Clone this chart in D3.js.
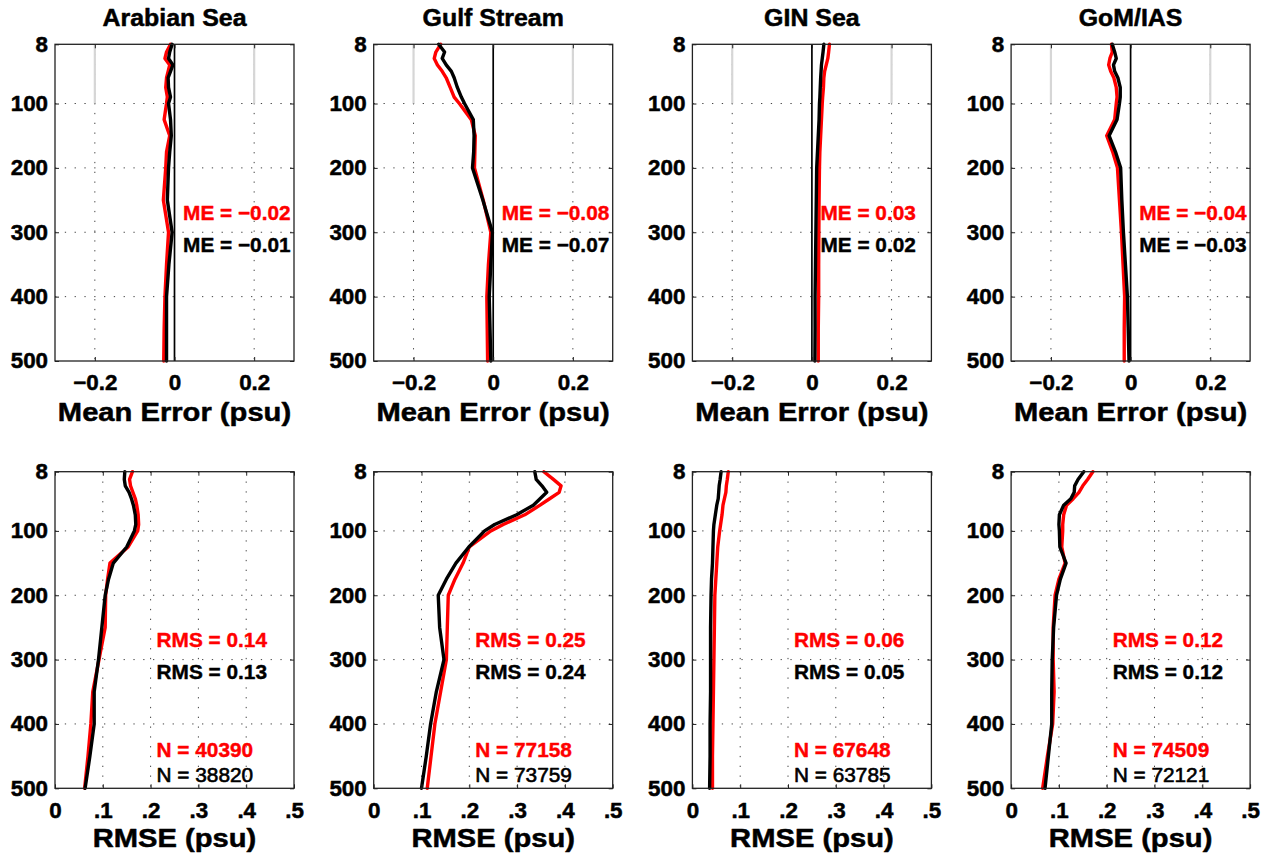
<!DOCTYPE html>
<html>
<head>
<meta charset="utf-8">
<script src="https://cdn.jsdelivr.net/npm/d3@7"></script>
<style>
  html, body { margin: 0; padding: 0; background: #fff; }
  svg { display: block; font-family: "Liberation Sans", Arial, Helvetica, sans-serif; }
</style>
</head>
<body>
<svg id="chart" width="1270" height="857"></svg>
<script>
// Salinity error profiles (psu) versus depth (m) for four regions.
const regions = ["Arabian Sea", "Gulf Stream", "GIN Sea", "GoM/IAS"];
const depths = [8, 20, 30, 40, 50, 60, 75, 90, 100, 125, 150, 175, 200, 250, 300, 350, 400, 450, 500];

// Mean error profiles, red and black experiments, one row per region
const meRed = [
  [-0.010, -0.020, -0.024, -0.012, -0.016, -0.020, -0.022, -0.018, -0.020, -0.026, -0.012, -0.020, -0.022, -0.028, -0.015, -0.020, -0.024, -0.026, -0.027],
  [-0.132, -0.144, -0.148, -0.140, -0.128, -0.118, -0.108, -0.098, -0.085, -0.055, -0.045, -0.046, -0.047, -0.025, -0.006, -0.012, -0.016, -0.015, -0.014],
  [0.044, 0.042, 0.040, 0.036, 0.032, 0.030, 0.029, 0.027, 0.026, 0.024, 0.022, 0.020, 0.019, 0.018, 0.0175, 0.017, 0.017, 0.016, 0.016],
  [-0.048, -0.046, -0.052, -0.055, -0.050, -0.042, -0.036, -0.034, -0.036, -0.040, -0.060, -0.045, -0.033, -0.028, -0.023, -0.019, -0.015, -0.016, -0.016]
];
const meBlack = [
  [-0.006, -0.012, -0.015, -0.004, -0.010, -0.016, -0.015, -0.010, -0.015, -0.010, -0.008, -0.012, -0.015, -0.018, -0.006, -0.014, -0.020, -0.020, -0.020],
  [-0.137, -0.122, -0.128, -0.118, -0.105, -0.098, -0.090, -0.080, -0.072, -0.050, -0.048, -0.049, -0.052, -0.026, -0.002, -0.006, -0.010, -0.008, -0.006],
  [0.030, 0.028, 0.026, 0.024, 0.023, 0.022, 0.021, 0.020, 0.019, 0.018, 0.016, 0.014, 0.012, 0.011, 0.010, 0.009, 0.008, 0.008, 0.0075],
  [-0.046, -0.040, -0.036, -0.043, -0.040, -0.032, -0.026, -0.026, -0.028, -0.034, -0.054, -0.038, -0.025, -0.022, -0.018, -0.013, -0.008, -0.006, -0.004]
];

// RMS error profiles
const rmseRed = [
  [0.162, 0.156, 0.158, 0.163, 0.168, 0.171, 0.174, 0.175, 0.173, 0.153, 0.115, 0.110, 0.106, 0.105, 0.092, 0.079, 0.075, 0.069, 0.062],
  [0.356, 0.376, 0.392, 0.388, 0.368, 0.348, 0.316, 0.271, 0.245, 0.200, 0.187, 0.170, 0.156, 0.154, 0.152, 0.140, 0.128, 0.120, 0.112],
  [0.075, 0.073, 0.071, 0.070, 0.067, 0.064, 0.062, 0.059, 0.057, 0.053, 0.051, 0.049, 0.047, 0.046, 0.045, 0.044, 0.043, 0.042, 0.042],
  [0.171, 0.160, 0.150, 0.142, 0.130, 0.116, 0.110, 0.108, 0.108, 0.106, 0.113, 0.100, 0.092, 0.088, 0.088, 0.090, 0.087, 0.076, 0.066]
];
const rmseBlack = [
  [0.146, 0.145, 0.147, 0.155, 0.160, 0.164, 0.168, 0.169, 0.166, 0.150, 0.122, 0.112, 0.105, 0.098, 0.091, 0.082, 0.082, 0.073, 0.063],
  [0.337, 0.340, 0.352, 0.362, 0.348, 0.334, 0.299, 0.253, 0.232, 0.199, 0.172, 0.152, 0.135, 0.138, 0.147, 0.131, 0.119, 0.110, 0.100],
  [0.060, 0.058, 0.056, 0.055, 0.054, 0.051, 0.048, 0.045, 0.044, 0.043, 0.042, 0.040, 0.039, 0.038, 0.038, 0.038, 0.037, 0.037, 0.036],
  [0.152, 0.140, 0.133, 0.132, 0.125, 0.110, 0.101, 0.100, 0.101, 0.102, 0.115, 0.103, 0.095, 0.089, 0.086, 0.085, 0.085, 0.078, 0.071]
];

// Summary statistics printed in each panel
const meTotalRed = [-0.02, -0.08, 0.03, -0.04];
const meTotalBlack = [-0.01, -0.07, 0.02, -0.03];
const rmsTotalRed = [0.14, 0.25, 0.06, 0.12];
const rmsTotalBlack = [0.13, 0.24, 0.05, 0.12];
const countRed = [40390, 77158, 67648, 74509];
const countBlack = [38820, 73759, 63785, 72121];

// Axis ticks
const depthTicks = [8, 100, 200, 300, 400, 500];
const meTicks = [-0.2, 0, 0.2];
const rmseTicks = [0, 0.1, 0.2, 0.3, 0.4, 0.5];

const RED = "#ff0000";
const BLACK = "#000000";

const svg = d3.select("#chart");

const panelW = 239;
const panelStep = 318.7;
const firstLeft = 55;
const topRow = { y0: 44.3, y1: 361 };
const botRow = { y0: 471.7, y1: 788.3 };

const fmtSigned = v => (v < 0 ? "\u2212" : "") + Math.abs(v).toFixed(2);
const fmtMeTick = v => v === 0 ? "0" : (v < 0 ? "\u2212" : "") + Math.abs(v).toFixed(1);
const fmtRmseTick = v => v === 0 ? "0" : "." + Math.round(v * 10);

// widen glyphs slightly (the typeface runs a bit wider than Liberation Sans)
function widen(sel, factor) {
  sel.each(function () {
    const w = this.getComputedTextLength();
    d3.select(this).attr("textLength", w * factor).attr("lengthAdjust", "spacingAndGlyphs");
  });
}

function heavy(sel, col, w) {
  sel.attr("stroke", col).attr("stroke-width", w).attr("stroke-linejoin", "round");
}

function drawPanel(g, opts) {
  const { x, y, xTicks, xFmt, xGrid, seriesRed, seriesBlack, isME } = opts;
  const [xa, xb] = x.range();
  const [ya, yb] = y.range();

  // dotted grid
  const grid = g.append("g").attr("stroke", "#444").attr("stroke-width", 1)
    .attr("stroke-dasharray", "1.3,8.5").attr("fill", "none");
  depthTicks.filter(d => d !== 8 && d !== 500).forEach(d => {
    grid.append("line").attr("x1", xa).attr("x2", xb).attr("y1", y(d)).attr("y2", y(d));
  });
  xGrid.forEach(v => {
    grid.append("line").attr("x1", x(v)).attr("x2", x(v)).attr("y1", ya).attr("y2", yb);
  });

  if (isME) {
    // light grey guides at +/-0.2 in the upper 100 m, and the zero line
    [-0.2, 0.2].forEach(v => {
      g.append("line").attr("x1", x(v)).attr("x2", x(v))
        .attr("y1", y(8)).attr("y2", y(100))
        .attr("stroke", "#d6d6d6").attr("stroke-width", 2.2);
    });
    g.append("line").attr("x1", x(0)).attr("x2", x(0)).attr("y1", ya).attr("y2", yb)
      .attr("stroke", "#000").attr("stroke-width", 1.7);
  }

  const line = d3.line().x(d => x(d[1])).y(d => y(d[0])).curve(d3.curveLinear);
  [[seriesRed, RED], [seriesBlack, BLACK]].forEach(([vals, col]) => {
    g.append("path")
      .datum(depths.map((d, i) => [d, vals[i]]))
      .attr("d", line)
      .attr("fill", "none")
      .attr("stroke", col)
      .attr("stroke-width", 3.4)
      .attr("stroke-linejoin", "round")
      .attr("stroke-linecap", "round");
  });

  // axes with inward ticks
  const tickFont = g2 => g2.selectAll("text")
    .attr("font-size", 21.5).attr("font-weight", "bold").attr("fill", "#000")
    .attr("font-family", "'Liberation Sans', Arial, sans-serif")
    .call(heavy, "#000", 0.5)
    .call(widen, 1.04);

  g.append("g").attr("transform", `translate(${xa},0)`)
    .call(d3.axisLeft(y).tickValues(depthTicks).tickSizeInner(-4).tickSizeOuter(0).tickPadding(7))
    .call(a => a.select(".domain").remove())
    .call(tickFont)
    .call(a => a.selectAll("line").attr("stroke", "#222"));
  g.append("g").attr("transform", `translate(${xb},0)`)
    .call(d3.axisRight(y).tickValues(depthTicks).tickSizeInner(-4).tickSizeOuter(0).tickFormat(""))
    .call(a => a.select(".domain").remove())
    .call(a => a.selectAll("line").attr("stroke", "#222"));
  g.append("g").attr("transform", `translate(0,${yb})`)
    .call(d3.axisBottom(x).tickValues(xTicks).tickFormat(xFmt).tickSizeInner(-4).tickSizeOuter(0).tickPadding(14))
    .call(a => a.select(".domain").remove())
    .call(tickFont)
    .call(a => a.selectAll("line").attr("stroke", "#222"));
  g.append("g").attr("transform", `translate(0,${ya})`)
    .call(d3.axisTop(x).tickValues(xTicks).tickFormat("").tickSizeInner(-4).tickSizeOuter(0))
    .call(a => a.select(".domain").remove())
    .call(a => a.selectAll("line").attr("stroke", "#222"));

  // frame
  g.append("rect").attr("x", xa).attr("y", ya).attr("width", xb - xa).attr("height", yb - ya)
    .attr("fill", "none").attr("stroke", "#222").attr("stroke-width", 1.3);
}

function annot(g, xPos, yPos, txt, col, bold) {
  g.append("text").attr("x", xPos).attr("y", yPos)
    .attr("font-size", 20).attr("font-weight", bold ? "bold" : "normal")
    .attr("fill", col).text(txt)
    .call(heavy, col, bold ? 0.4 : 0.6)
    .call(widen, 1.04);
}

function heading(g, xPos, yPos, txt, size, factor) {
  g.append("text").attr("x", xPos).attr("y", yPos)
    .attr("text-anchor", "middle").attr("font-size", size).attr("font-weight", "bold")
    .text(txt)
    .call(heavy, "#000", 0.5)
    .call(widen, factor);
}

regions.forEach((name, i) => {
  const left = firstLeft + i * panelStep;
  const right = left + panelW;
  const mid = (left + right) / 2;

  // Mean error panel
  const xMe = d3.scaleLinear().domain([-0.3, 0.3]).range([left, right]);
  const yMe = d3.scaleLinear().domain([8, 500]).range([topRow.y0, topRow.y1]);
  const gTop = svg.append("g");
  drawPanel(gTop, {
    x: xMe, y: yMe, xTicks: meTicks, xFmt: fmtMeTick, xGrid: [-0.2, 0.2],
    seriesRed: meRed[i], seriesBlack: meBlack[i], isME: true
  });
  heading(gTop, mid, 26, name, 23.5, 1.06);
  heading(gTop, mid, 420.5, "Mean Error (psu)", 26.5, 1.1);
  annot(gTop, xMe(0.0215), yMe(270) + 7, "ME = " + fmtSigned(meTotalRed[i]), RED, true);
  annot(gTop, xMe(0.0215), yMe(320) + 7, "ME = " + fmtSigned(meTotalBlack[i]), BLACK, true);

  // RMS error panel
  const xRm = d3.scaleLinear().domain([0, 0.5]).range([left, right]);
  const yRm = d3.scaleLinear().domain([8, 500]).range([botRow.y0, botRow.y1]);
  const gBot = svg.append("g");
  drawPanel(gBot, {
    x: xRm, y: yRm, xTicks: rmseTicks, xFmt: fmtRmseTick, xGrid: [0.1, 0.2, 0.3, 0.4],
    seriesRed: rmseRed[i], seriesBlack: rmseBlack[i], isME: false
  });
  heading(gBot, mid, 846.5, "RMSE (psu)", 26.5, 1.1);
  annot(gBot, xRm(0.2125), yRm(270) + 7, "RMS = " + rmsTotalRed[i].toFixed(2), RED, true);
  annot(gBot, xRm(0.2125), yRm(320) + 7, "RMS = " + rmsTotalBlack[i].toFixed(2), BLACK, true);
  annot(gBot, xRm(0.2125), yRm(441) + 7, "N = " + countRed[i], RED, true);
  annot(gBot, xRm(0.2125), yRm(479) + 7, "N = " + countBlack[i], BLACK, false);
});
</script>
</body>
</html>
